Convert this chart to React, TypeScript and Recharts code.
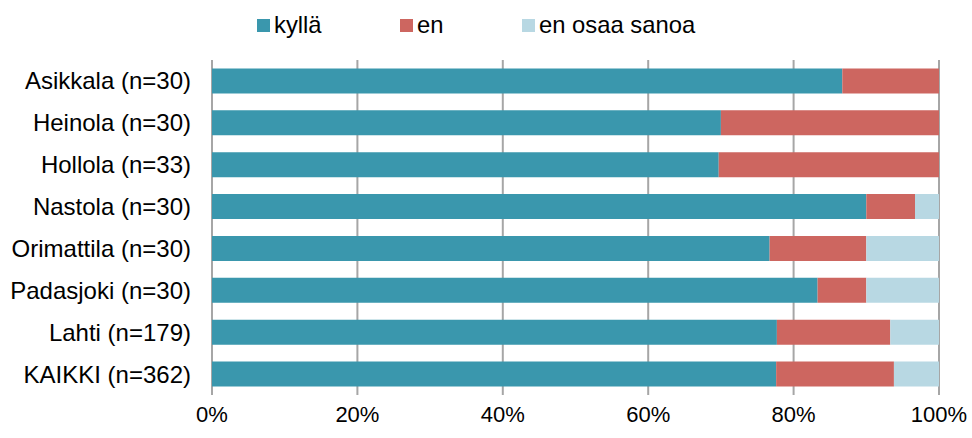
import React from "react";
import { BarChart, Bar, XAxis, YAxis, CartesianGrid } from "recharts";

const categories = [
  "Asikkala (n=30)",
  "Heinola (n=30)",
  "Hollola (n=33)",
  "Nastola (n=30)",
  "Orimattila (n=30)",
  "Padasjoki (n=30)",
  "Lahti (n=179)",
  "KAIKKI (n=362)",
];
const kylla = [86.7, 70.0, 69.7, 90.0, 76.7, 83.3, 77.7, 77.6];
const en = [13.3, 30.0, 30.3, 6.7, 13.3, 6.7, 15.6, 16.2];
const eos = [0, 0, 0, 3.3, 10.0, 10.0, 6.7, 6.2];
const xTicks = [0, 20, 40, 60, 80, 100];

const seriesNames = ["kyllä", "en", "en osaa sanoa"];
const colors = ["#3A97AD", "#CD6660", "#B8D8E3"];

const data = categories.map((c, i) => ({
  name: c,
  kylla: kylla[i],
  en: en[i],
  eos: eos[i],
}));

const FONT = "'Liberation Sans', Arial, sans-serif";

export default function App() {
  const legendLefts = [257, 400, 522];
  return (
    <div
      style={{
        position: "fixed",
        left: 0,
        top: 0,
        width: 972,
        height: 438,
        background: "#fff",
        fontFamily: FONT,
      }}
    >
      {seriesNames.map((s, i) => (
        <div
          key={s}
          style={{
            position: "absolute",
            left: legendLefts[i],
            top: 10,
            height: 30,
            display: "flex",
            alignItems: "center",
            fontSize: 23.8,
            color: "#000",
          }}
        >
          <span
            style={{
              width: 13,
              height: 13,
              background: colors[i],
              display: "inline-block",
              marginRight: 4,
            }}
          />
          <span>{s}</span>
        </div>
      ))}
      <BarChart
        width={972}
        height={438}
        data={data}
        layout="vertical"
        margin={{ top: 60, right: 33, bottom: 13, left: 0 }}
        barCategoryGap="20%"
      >
        <CartesianGrid horizontal={false} stroke="#A6A6A6" strokeWidth={2} />
        <XAxis
          type="number"
          domain={[0, 100]}
          ticks={xTicks}
          tickFormatter={(v: number) => `${v}%`}
          axisLine={false}
          tickLine={false}
          height={30}
          tick={{ fontSize: 22, fill: "#000", fontFamily: FONT }}
          tickMargin={5}
        />
        <YAxis
          type="category"
          dataKey="name"
          width={212}
          axisLine={false}
          tickLine={false}
          tickSize={6}
          tickMargin={15}
          tick={{ fontSize: 24, fill: "#000", fontFamily: FONT }}
        />
        <Bar dataKey="kylla" stackId="a" fill={colors[0]} isAnimationActive={false} />
        <Bar dataKey="en" stackId="a" fill={colors[1]} isAnimationActive={false} />
        <Bar dataKey="eos" stackId="a" fill={colors[2]} isAnimationActive={false} />
      </BarChart>
    </div>
  );
}
